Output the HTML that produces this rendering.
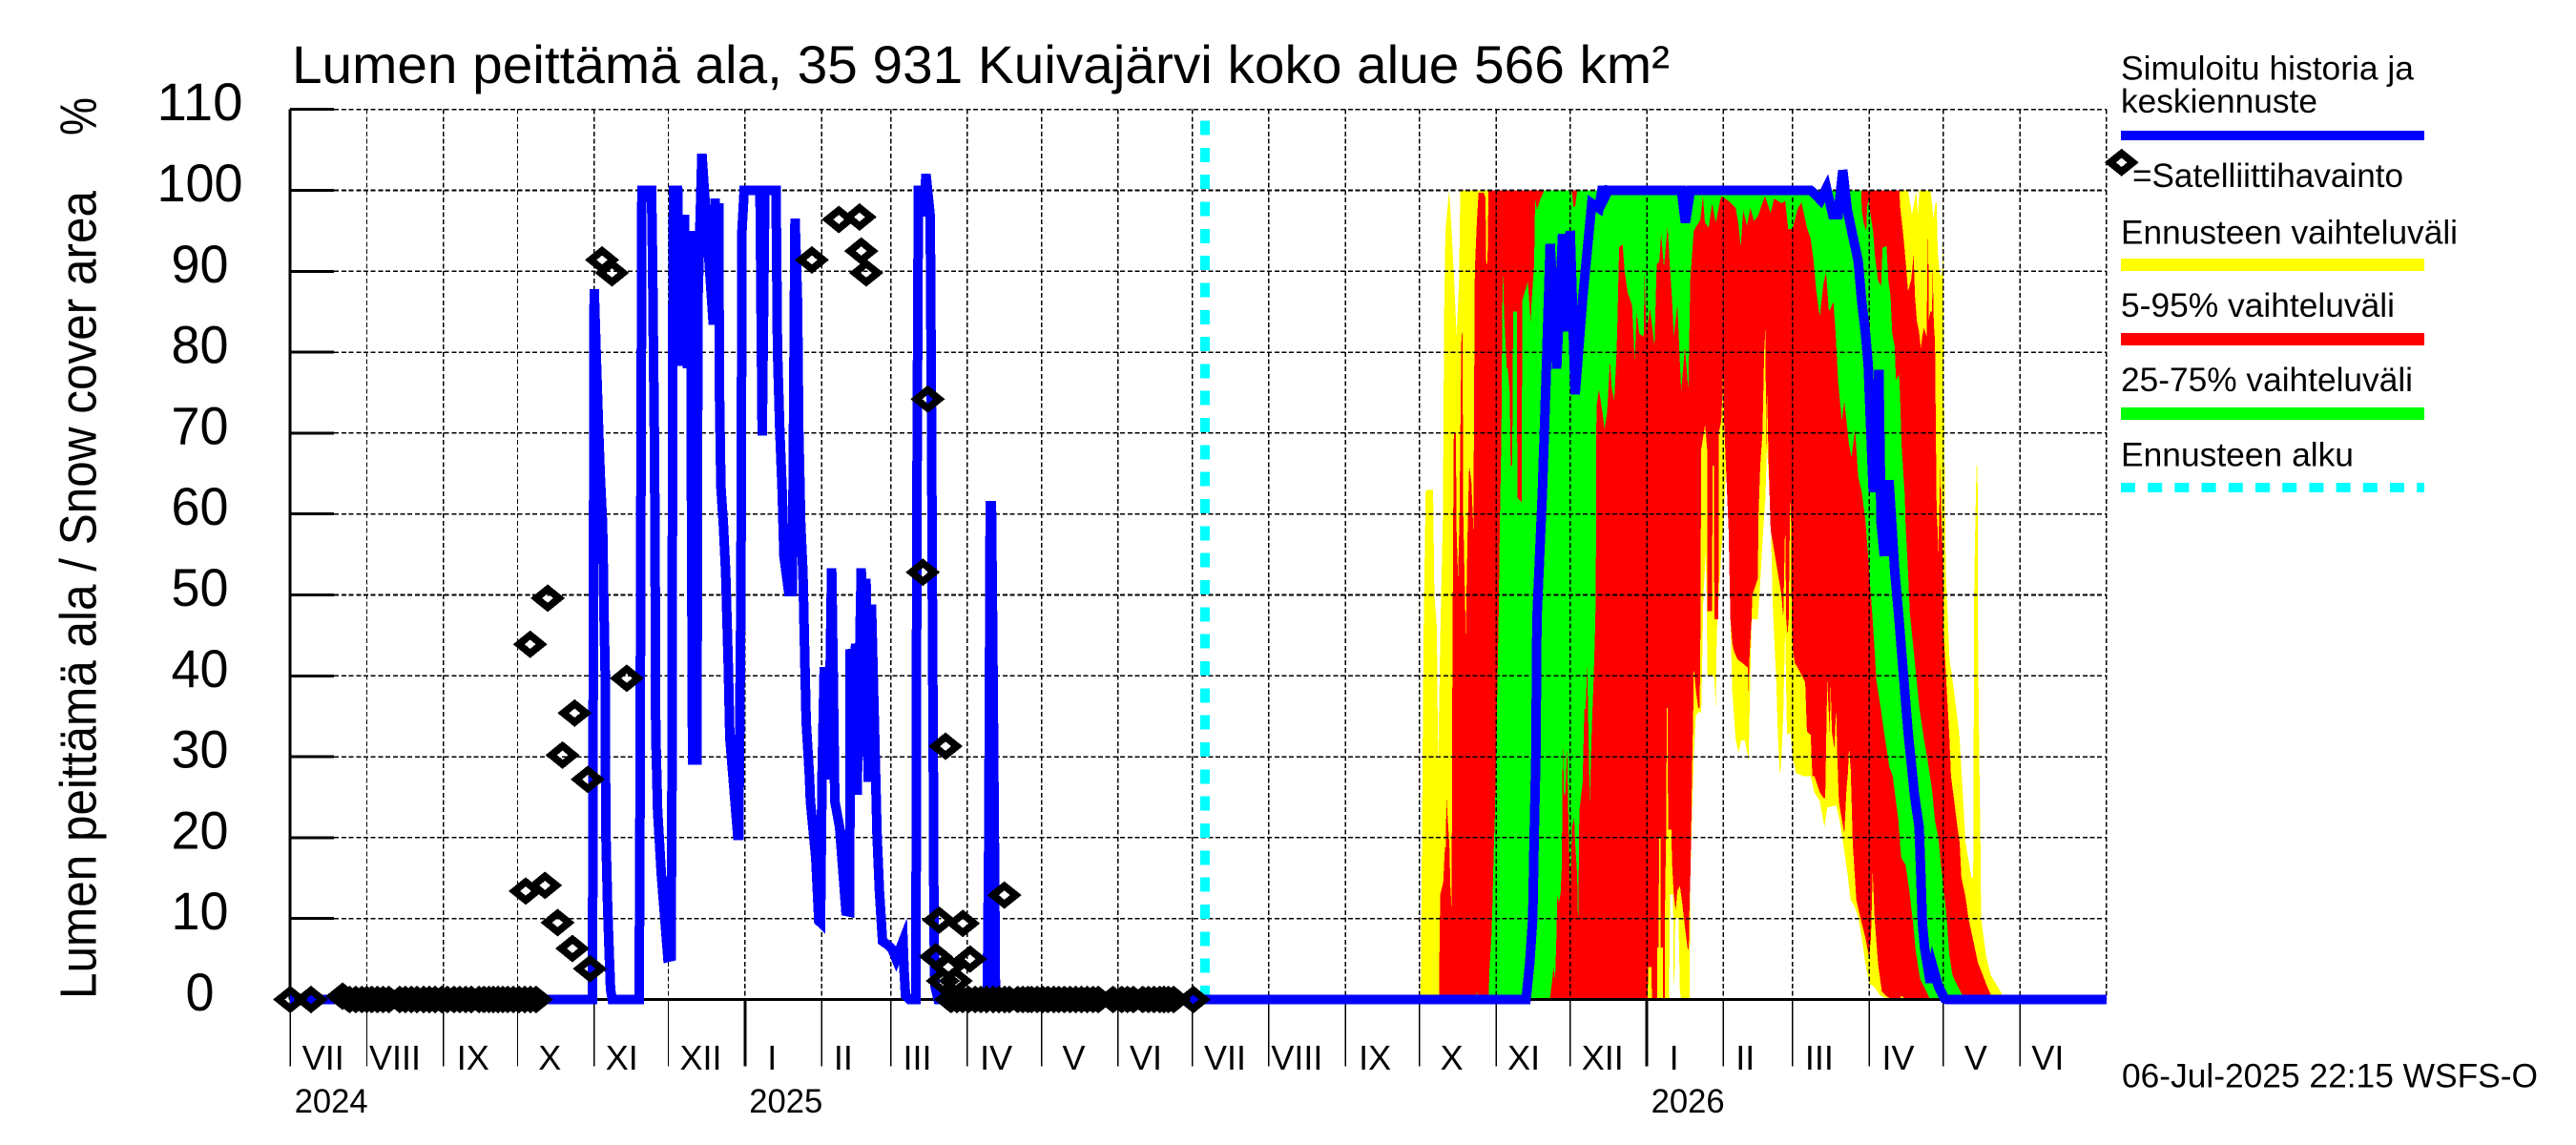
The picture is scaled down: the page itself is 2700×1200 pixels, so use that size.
<!DOCTYPE html>
<html lang="fi">
<head>
<meta charset="utf-8">
<title>Lumen peittämä ala</title>
<style>
  html, body { margin: 0; padding: 0; background: #fff; }
  svg { display: block; }
  text { font-family: "Liberation Sans", sans-serif; fill: #000; }
</style>
</head>
<body>
<svg id="chart" xmlns="http://www.w3.org/2000/svg" width="2700" height="1200" viewBox="0 0 2700 1200">
  <rect x="0" y="0" width="2700" height="1200" fill="#fff"/>
  <g id="bands"></g>
  <g id="grid"></g>
  <g id="axes"></g>
  <g id="series"></g>
  <g id="points"></g>

  <text x="306" y="87" font-size="56" textLength="1444" lengthAdjust="spacingAndGlyphs">Lumen peittämä ala, 35 931 Kuivajärvi koko alue 566 km²</text>
  <text transform="translate(100.5 1047) rotate(-90)" font-size="54" textLength="847" lengthAdjust="spacingAndGlyphs">Lumen peittämä ala / Snow cover area</text>
  <text transform="translate(100.5 142) rotate(-90)" font-size="54" textLength="40" lengthAdjust="spacingAndGlyphs">%</text>
  <text x="2224" y="1139.5" font-size="35" textLength="436" lengthAdjust="spacingAndGlyphs">06-Jul-2025 22:15 WSFS-O</text>

  <g>
    <text x="2223" y="83.5" font-size="35" textLength="307" lengthAdjust="spacingAndGlyphs">Simuloitu historia ja</text>
    <text x="2223" y="118" font-size="35" textLength="206" lengthAdjust="spacingAndGlyphs">keskiennuste</text>
    <rect x="2223" y="137" width="318" height="10" fill="#0000ff"/>
    <path fill="#000" fill-rule="evenodd" shape-rendering="crispEdges" d="M2205.7 170.3L2223.7 155.8L2241.7 170.3L2223.7 184.8ZM2217.9 170.3L2223.7 175.1L2229.5 170.3L2223.7 165.5Z"/>
    <text x="2235" y="196" font-size="35" textLength="284" lengthAdjust="spacingAndGlyphs">=Satelliittihavainto</text>
    <text x="2223" y="255.6" font-size="35" textLength="353" lengthAdjust="spacingAndGlyphs">Ennusteen vaihteluväli</text>
    <rect x="2223" y="271" width="318" height="13" fill="#ffff00"/>
    <text x="2223" y="332" font-size="35" textLength="287" lengthAdjust="spacingAndGlyphs">5-95% vaihteluväli</text>
    <rect x="2223" y="349" width="318" height="13" fill="#ff0000"/>
    <text x="2223" y="410.2" font-size="35" textLength="306" lengthAdjust="spacingAndGlyphs">25-75% vaihteluväli</text>
    <rect x="2223" y="427" width="318" height="13" fill="#00ff00"/>
    <text x="2223" y="488.3" font-size="35" textLength="244" lengthAdjust="spacingAndGlyphs">Ennusteen alku</text>
    <line x1="2223" y1="511" x2="2541" y2="511" stroke="#00ffff" stroke-width="10" stroke-dasharray="15 13.2"/>
  </g>
</svg>
<script>
// Tick data (days since 1 Jul 2024)
const monthStartDays = [0,31,62,92,123,153,184,215,243,274,304,335,365,396,427,457,488,518,549,580,608,639,669,700];
const monthLabels = ["VII","VIII","IX","X","XI","XII","I","II","III","IV","V","VI","VII","VIII","IX","X","XI","XII","I","II","III","IV","V","VI"];
const yearStartDays = [184,549];
const yearLabels = ["2025","2026"];
const firstYearLabel = "2024";
const yTickValues = [0,10,20,30,40,50,60,70,80,90,100,110];
const forecastStartDay = 370.2;
const lastDay = 735;

// Simulated history and mean forecast: [day, percent]
const meanSeries = [[0,0],[122.3,0],[123,87.8],[123.9,79],[124.8,70.5],[125.5,64.6],[126.4,58.7],[126.7,52.8],[126.9,48.9],[127.5,39.8],[127.7,21.3],[128.4,11.9],[129,6.4],[129.6,1.3],[130.3,0],[141.2,0],[141.5,20],[141.9,60],[142.3,100],[143.5,100],[146.2,100],[146.6,92],[147,80.3],[147.4,68.1],[147.7,52.8],[147.9,33.1],[148.7,23.3],[150.2,15.4],[152.8,5.2],[154.1,5.3],[154.6,33],[154.7,78],[155.1,100],[156.8,100],[158,78.3],[159.5,97],[160.7,78],[162,95],[162.4,60],[162.8,29.6],[164.6,29.6],[165,86.2],[166.6,104.5],[171.2,83.4],[171.9,99],[172.6,86],[173.4,98.4],[173.7,75.2],[174.3,63.4],[175.3,58.7],[176.2,52.8],[177.3,41],[177.9,32.3],[181.1,20.3],[181.5,20.3],[182.4,50],[182.8,95],[183.7,100],[190.1,100],[191,69.7],[192.1,100],[196.6,100],[197.2,80.3],[198.1,70.5],[199.1,62.6],[199.8,54.8],[201.7,50.4],[203.2,50.4],[204.3,96.5],[205.3,86.2],[205.8,70.5],[206.6,58.7],[207.5,52.8],[208.1,44],[208.8,34.3],[210.1,27.6],[210.5,24.5],[212.7,17.4],[213.9,9.7],[214.6,9.5],[215.2,27.2],[216.1,41.1],[216.6,27.2],[218.2,34.3],[219.1,53.3],[219.7,41],[220.4,24.5],[222.3,21.3],[224.9,10.9],[226.4,10.8],[226.6,43.3],[228,30],[228.8,44],[229.4,25.3],[231.1,53.3],[232.3,30],[233,52],[233.9,26.9],[235.2,48.8],[236.5,33],[237.5,20.2],[238.4,13.5],[239.7,7.2],[241.6,6.8],[243.6,6.2],[244.4,5.6],[245.2,5],[248,7.2],[248.4,3.6],[249,0.5],[250.6,0],[253.2,0],[253.6,60],[254.2,100],[255.8,100],[256.2,96.8],[257.3,102],[259,96.8],[259.4,78.3],[259.6,66.5],[259.8,52.8],[260.3,25],[260.5,9.5],[260.9,1.7],[262.2,0],[282.1,0],[282.7,20],[283.3,61],[283.8,61],[284.3,45],[284.9,22],[285.4,0],[500.1,0],[501.6,4.4],[502.8,10],[503.4,20],[504.1,30],[504.5,47],[506.7,62.7],[508.2,76.4],[509.9,93.4],[512.5,78],[514.9,94.6],[517,82.6],[518,95],[520,74.8],[523,86.6],[526.7,98.4],[529.6,97.8],[531.1,100.5],[532.1,99.2],[533.4,100],[563,100],[564.6,96],[566.6,100],[615.3,100],[616.8,99.6],[619.3,98.8],[621.7,100.3],[624.2,97],[626.4,97],[628.3,102.5],[630.1,97.6],[632.3,94.4],[634.5,91.3],[636,86.2],[637.5,82.3],[638.6,78.3],[640.6,62.7],[642.9,77.8],[643.8,59],[645.1,54.8],[647,64.2],[649.3,53],[651.1,46.9],[652.8,40.2],[654.7,33.1],[656.3,28.4],[657.3,25.3],[659.2,21.3],[659.9,15.4],[660.5,9.5],[661.4,6.4],[663.7,2.1],[664.8,4],[666.9,1.7],[669.5,0.1],[670.2,0],[735,0]];

// Forecast min-max range
const yellowUpper = [[457.5,0],[458,20],[458.7,46],[459.5,63],[462.5,63],[463,50],[464,46],[464.5,29],[465.5,46],[466.5,60],[467,85],[467.5,95],[469,100],[470,95],[471,89],[472,82],[473,89],[473.5,100],[654.7,100],[656.3,97],[657.5,99],[658,100],[658.7,97],[659.3,100],[663.8,100],[664.5,98],[665,96.4],[665.7,98.4],[666.3,98.4],[666.7,92.3],[667.7,89.3],[668.5,90],[669,94],[669.3,73.6],[669.7,60],[670,52.8],[671.5,42],[672.5,40],[675.4,33],[676,30],[678,19.4],[680.3,15.1],[681.1,15.1],[681.5,52],[682,60],[682.4,66],[682.8,66],[683,45],[683.5,30],[684,19],[684.3,10],[686.3,5.4],[688.2,3],[693.3,0.4],[694,0]];
const yellowLower = [[457.5,0],[558,0],[558.4,13],[559.6,13],[559.9,2],[560.2,2],[560.5,10],[561.8,10],[562.4,1],[562.9,0],[566.3,0],[566.6,15],[567.3,23],[568,30],[568.8,35],[569.8,35.5],[571,35.5],[571.3,40],[571.9,50],[572.8,55],[573.2,50],[573.5,40],[576.2,40],[576.9,36],[577.3,45],[578.1,50],[579.1,55],[580.2,60],[581,65],[582.1,63],[582.5,55],[582.8,47],[583.6,38],[585,32],[586.1,30.5],[587.2,32],[588.7,32],[590.2,29.6],[590.9,40],[591.4,47],[593.9,47],[594.6,50],[596.1,58],[597,62],[597.6,68.5],[599.1,60],[599.8,50],[600.5,45],[601.3,40],[602,33],[602.8,27.6],[603.5,30],[604.2,35],[605,46],[605.7,32.7],[607.2,33],[607.9,30],[608.7,29],[609.4,28],[612.4,27.6],[615.3,27.6],[616.8,25.6],[619,24.5],[620.9,21.3],[622,23.7],[625.6,24],[627.1,22],[628.6,19],[630.1,15.8],[631.5,12.3],[633,11.5],[634.5,10.3],[636,7.6],[637.5,4.4],[638.9,2],[641.2,1.5],[643.4,0.5],[645.6,0.2],[646.3,0],[694,0]];

// 5-95 % range
const redUpper = [[465,0],[465.1,6.8],[465.4,13],[466.6,14.5],[467.3,18.8],[467.6,18.8],[467.9,25],[468.3,23],[469.1,19],[469.5,14],[470,11],[470.3,40],[470.6,58],[470.9,70],[471.7,70],[472,58],[472.6,52],[473.2,60],[473.7,75],[474,82.7],[474.4,82],[474.7,60],[475.7,45],[476.5,58],[477.1,66],[478,64],[478.8,58],[479.1,75],[479.4,90],[480.2,96],[480.9,99.7],[483.1,99.7],[483.7,99],[484,90.9],[484.5,91],[484.9,100],[651.2,100],[651.5,98],[652.8,94.4],[654.1,90],[654.7,87.5],[656,89],[657,92],[657.5,87],[658.3,83.8],[659.2,82.5],[659.9,80.5],[660.5,82],[661.1,83],[662.2,82],[662.7,94],[662.9,94],[663.1,84],[663.7,85],[664.4,85],[664.7,90],[665.1,84],[665.4,82],[665.6,82],[666,69.3],[666.3,60],[666.7,58],[667,55],[667.3,60],[667.8,65.7],[668.2,60],[668.6,56],[668.9,52.8],[669.1,45.3],[671.4,32.7],[672.1,27.6],[673.4,24.5],[674.7,21.3],[675.6,19.4],[676.3,15.1],[677.9,12.8],[679.2,10],[681.1,7.3],[683,4.5],[685,3],[686.2,2],[688.2,0.6],[689.5,0]];
const redLower = [[465,0],[549.3,0],[549.6,4],[550.8,4],[551.1,0],[553.2,0],[553.3,6.4],[553.7,6.4],[554,20],[554.5,20],[554.6,6.4],[555.5,6.4],[555.6,0],[556.2,0],[556.4,13.4],[556.8,20],[557.1,36],[557.4,36],[557.6,21],[558.9,21],[559.2,17],[559.9,13],[560.7,11],[561.4,13.5],[562.4,14],[563.3,12],[564.4,9],[565.4,6.5],[566,6],[566.3,12],[566.6,15],[566.9,20],[567.3,28],[567.8,36],[568,41],[568.9,38],[569.8,36],[570.4,36],[570.7,45],[571,68],[572.6,71],[573.4,68],[573.5,48],[575.4,48],[575.6,66],[576.2,66],[576.3,47],[578,47],[578.1,70],[579.1,71.5],[579.6,75],[579.9,78.4],[580.2,72],[581,66],[582.1,58],[582.8,47],[583.6,44],[584.3,43],[585.8,42],[588,41.5],[589.9,41],[590.2,38],[590.5,42],[591.4,47],[591.7,50],[593.9,52],[594.2,60],[594.9,66],[595.8,70],[596.5,80],[597,83],[597.3,68],[597.6,76],[598.3,66],[599.1,58],[603.5,50],[604.2,47],[605,59],[605.4,47],[605.9,45],[606.4,47],[606.9,60],[607.3,62],[607.6,47],[608.2,43],[609,41.4],[609.4,41.4],[613.1,39.2],[613.8,33.1],[615.3,32.7],[616,27.6],[616.8,27.6],[619,25.6],[620.5,24.9],[621.2,24.9],[622,39.4],[622.3,37.4],[623,33],[623.4,38.8],[623.9,33],[624.9,31],[625.6,36],[626.1,30],[626.7,24.5],[627.1,23.7],[628.9,20.5],[629.8,26],[630.4,28],[630.8,31.1],[631.5,28.4],[632.3,19.3],[633.8,12.3],[635.3,10.3],[637.5,7.6],[638.9,5.2],[639.7,7.6],[640.4,15.8],[641.2,9.9],[642.6,4.4],[644.1,1],[645.6,0.5],[647.1,0.2],[651.5,0],[651.8,0.4],[652.2,0.4],[654,0],[689.5,0]];

// 25-75 % range
const greenUpper = [[479.8,0],[480.2,1],[480.6,0],[485,0],[485.3,3.6],[486.1,7.6],[486.5,11.3],[487.1,19],[487.5,22.5],[488.6,40.4],[489,46.9],[489.5,58.7],[490.1,69.3],[490.5,85],[490.8,90.3],[491.2,85],[492.3,78],[492.7,78],[493.5,75],[493.9,66],[494.5,66],[494.9,85],[496.4,85],[496.6,62],[498.3,61.5],[498.6,86.4],[500.8,88.7],[502,83.6],[502.3,86],[503.4,90.9],[503.8,99],[504.5,97.6],[506,99],[507.5,100],[518.6,100],[519.3,98],[520,98],[520.8,100],[635.8,100],[636,97.6],[636.7,96],[637.3,95.4],[637.8,95],[638.2,98],[638.6,98.8],[640.6,94.8],[641.2,92.3],[642.5,88.9],[643.8,88.1],[644.4,92.9],[646,93.1],[646.7,88.9],[647.6,87],[648.3,82.3],[649.3,80.7],[649.8,76.6],[651.1,77.2],[651.5,74.4],[652.1,68.5],[652.8,65],[653.4,62.2],[653.7,58.7],[654.7,52.8],[655.4,47.9],[657.3,42.2],[659.2,36.3],[661.1,32.3],[662.4,30],[664.4,26],[665.6,22.1],[666.9,20.1],[668.2,16.2],[670.2,10.7],[671.4,5.6],[672.7,3],[674.7,1.7],[676.6,0.6],[677.2,0]];
const greenLower = [[479.8,0],[509.7,0],[510.1,0.9],[510.7,2.3],[511.2,4],[511.9,2.4],[512.4,7.6],[512.8,13.1],[513.4,11.9],[514.1,13.1],[514.6,16.6],[515,32.3],[515.5,25.3],[516,25.3],[516.8,31.1],[517.2,23.3],[517.8,15.4],[518.1,13.1],[518.7,21.3],[519.6,22.5],[520,19.4],[520.8,15.4],[521.2,8.6],[521.7,23.3],[523,26.8],[523.7,35.9],[524.2,35.9],[524.9,41.4],[525.2,35.9],[525.9,24.3],[526.7,33.5],[527.4,39],[528.2,46.9],[528.5,58],[528.6,73.3],[529.6,75.4],[531.1,72.5],[531.9,70.5],[532.9,72.5],[534.1,79],[534.8,75.6],[535.8,74],[536.6,78.8],[537,82.3],[537.8,93],[539.2,93.3],[540,90.1],[541.2,87.4],[543,85.8],[544.1,78.8],[544.9,85],[545.9,82.3],[547.7,81.9],[548.1,89.7],[548.8,82.3],[550.3,85.4],[552.1,80.7],[553,90.9],[554,91.1],[554.8,94.6],[555.9,90.5],[557.4,95.5],[558.4,90.1],[559.2,86.6],[559.9,82],[561.4,85.8],[562.9,75.2],[564.4,80.7],[565.8,75.2],[566.6,89],[568,95],[570.7,96.4],[571.7,99.3],[572.5,96],[574,95.4],[575.4,98.4],[576.9,96],[578.4,98.4],[579.1,99.3],[580.2,99.1],[582.8,98.5],[585,97.8],[586.1,95.8],[587,93],[588,97.6],[589.5,95.6],[590.9,97.8],[592.4,96.2],[593.9,96.8],[596.8,99.3],[599.1,97.2],[600.5,99],[603.5,98.4],[605,98.7],[606.2,95.2],[607.9,95.2],[610.1,97.8],[611.6,98.5],[613.8,95.4],[615.3,94],[616.5,91.3],[617.5,87.8],[619,84.4],[620.5,88.5],[621.5,89.9],[622.7,85],[624.5,86.2],[625.4,82.3],[626.4,76.4],[627.9,71.5],[628.9,74],[630.8,68.6],[631.8,67],[633.3,70.5],[634.5,64.6],[636,62.7],[637.5,59.1],[640.4,46.9],[641.2,43],[641.9,39.4],[643.7,35.9],[644.8,33.5],[647.1,28.8],[648.5,27.6],[650.8,22.1],[651.9,17.6],[653.7,16.6],[655.2,13.5],[656.7,9.5],[657.8,6],[659.6,2.5],[662.6,0.7],[663.6,0],[677.2,0]];

// Satellite observations: [day, percent]
const satelliteObservations = [[126.2,91.4],[130.2,89.8],[211.1,91.4],[222,96.4],[230.4,96.7],[231.1,92.5],[233.1,89.8],[258,74.2],[256,52.8],[136.2,39.7],[104.2,49.6],[97.1,43.9],[115.1,35.4],[110.2,30.2],[120.4,27.2],[103.1,14.1],[95.3,13.4],[108.2,9.5],[114.2,6.3],[121.3,3.8],[265.2,31.3],[262.6,9.8],[272.2,9.4],[261.3,5.3],[275.1,5],[266.3,4],[264.1,2.3],[269.3,2.3],[289,12.9],[0,0],[8.4,0],[21.2,0.4],[24,0],[26.5,0],[29,0],[31,0],[33,0],[35.3,0],[37.6,0],[39.9,0],[44.3,0],[46.6,0],[49,0],[51.3,0],[54,0],[56.3,0],[58.6,0],[61.3,0],[63.6,0],[66.3,0],[68.6,0],[71,0],[73.3,0],[76.4,0],[78.4,0],[80.4,0],[82.2,0],[84.1,0],[86,0],[88,0],[90.3,0],[92.6,0],[94.9,0],[97.2,0],[99.5,0],[267.4,0],[269.8,0],[272.1,0],[274.5,0],[277.2,0],[279.5,0],[281.8,0],[284.5,0],[286.8,0],[289.1,0],[291,0],[294.4,0],[296.5,0],[298.5,0],[300,0],[302.3,0],[304.5,0],[306.6,0],[309,0],[311,0],[313.3,0],[315.6,0],[317.9,0],[320.2,0],[322.5,0],[324.9,0],[327,0],[333,0],[336.5,0],[338.8,0],[341.2,0],[345,0],[347.3,0],[349.6,0],[351.9,0],[353.6,0],[355.4,0],[357.5,0],[365.5,0]];

const NS = "http://www.w3.org/2000/svg";
const xScale = d => 304.2 + 2.59 * d;
const yScale = v => 1047.5 - 8.48 * v;
const labelOffset = {VII:34.5,VIII:29.5,IX:31,X:33.8,XI:29,XII:34,I:28.5,II:22.8,III:28,IV:30.3,V:34,VI:29.2};

function make(tag, attrs, parent, text) {
  const el = document.createElementNS(NS, tag);
  for (const k in attrs) el.setAttribute(k, attrs[k]);
  if (text !== undefined) el.textContent = text;
  parent.appendChild(el);
  return el;
}
const pts = arr => arr.map(p => xScale(p[0]).toFixed(1) + "," + yScale(p[1]).toFixed(1)).join(" ");

// Bands
const bandsG = document.getElementById("bands");
function band(upper, lower, color, name) {
  const el = make("polygon", {points: pts(upper) + " " + pts(lower.slice().reverse()), fill: color, "shape-rendering": "crispEdges"}, bandsG);
  
  
}
band(yellowUpper, yellowLower, "#ffff00", "band-min-max");
band(redUpper, redLower, "#ff0000", "band-5-95");
band(greenUpper, greenLower, "#00ff00", "band-25-75");

// Grid
const gridG = document.getElementById("grid");
const right = xScale(lastDay);
yTickValues.forEach(v => {
  if (v === 0) return;
  const el = make("line", {x1: 304, x2: right, y1: yScale(v), y2: yScale(v), stroke: "#000", "stroke-width": 1.6, "stroke-dasharray": "5 2.7", "shape-rendering": "crispEdges"}, gridG);
  
  
});
monthStartDays.concat([lastDay]).forEach(d => {
  if (d === 0) return;
  const el = make("line", {x1: xScale(d), x2: xScale(d), y1: yScale(110), y2: yScale(0), stroke: "#000", "stroke-width": 1.4, "stroke-dasharray": "5 2.7", "shape-rendering": "crispEdges"}, gridG);
  
  
});

// Axes
const axesG = document.getElementById("axes");
const yAxis = make("line", {x1: xScale(0), x2: xScale(0), y1: yScale(110), y2: yScale(0), stroke: "#000", "stroke-width": 3, "shape-rendering": "crispEdges"}, axesG);


const xAxis = make("line", {x1: xScale(0), x2: right, y1: yScale(0), y2: yScale(0), stroke: "#000", "stroke-width": 3, "shape-rendering": "crispEdges"}, axesG);



yTickValues.forEach(v => {
  const t = make("line", {x1: xScale(0), x2: 350, y1: yScale(v), y2: yScale(v), stroke: "#000", "stroke-width": 3, "shape-rendering": "crispEdges"}, axesG);
  
  
  const s = String(v);
  const l = make("text", {x: 209.5, y: yScale(v) + 11.5, "font-size": 56, "text-anchor": "middle", textLength: s.length * 30, lengthAdjust: "spacingAndGlyphs"}, axesG, s);
  
  
});

monthStartDays.forEach((d, i) => {
  const thick = yearStartDays.indexOf(d) >= 0;
  const t = make("line", {x1: xScale(d), x2: xScale(d), y1: yScale(0), y2: 1117.5, stroke: "#000", "stroke-width": thick ? 3 : 1.4, "shape-rendering": "crispEdges"}, axesG);
  
  
  const name = monthLabels[i];
  const l = make("text", {x: xScale(d) + labelOffset[name], y: 1121, "font-size": 36, "text-anchor": "middle"}, axesG, name);
  
  
});

const y0Label = make("text", {x: xScale(0) + 4.5, y: 1166, "font-size": 35, textLength: 77, lengthAdjust: "spacingAndGlyphs"}, axesG, firstYearLabel);


yearStartDays.forEach((d, i) => {
  const l = make("text", {x: xScale(d) + 4.5, y: 1166, "font-size": 35, textLength: 77, lengthAdjust: "spacingAndGlyphs"}, axesG, yearLabels[i]);
  
  
});

// Forecast start marker and mean line
const seriesG = document.getElementById("series");
const cyan = make("line", {x1: xScale(forecastStartDay), x2: xScale(forecastStartDay), y1: 1048, y2: yScale(110), stroke: "#00ffff", "stroke-width": 10, "stroke-dasharray": "15 13.33", "shape-rendering": "crispEdges"}, seriesG);



const meanLine = make("polyline", {points: pts(meanSeries), fill: "none", stroke: "#0000ff", "stroke-width": 10, "stroke-linejoin": "miter", "stroke-miterlimit": 5, "shape-rendering": "crispEdges"}, seriesG);



// Observations
const pointsG = document.getElementById("points");
satelliteObservations.forEach(p => {
  const cx = xScale(p[0]), cy = yScale(p[1]);
  const d = "M" + (cx - 18) + " " + cy + "L" + cx + " " + (cy - 14.5) + "L" + (cx + 18) + " " + cy + "L" + cx + " " + (cy + 14.5) + "Z" +
            "M" + (cx - 5.8) + " " + cy + "L" + cx + " " + (cy + 4.8) + "L" + (cx + 5.8) + " " + cy + "L" + cx + " " + (cy - 4.8) + "Z";
  const el = make("path", {d: d, fill: "#000", "fill-rule": "evenodd", "shape-rendering": "crispEdges"}, pointsG);
  
  
});
</script>
</body>
</html>
